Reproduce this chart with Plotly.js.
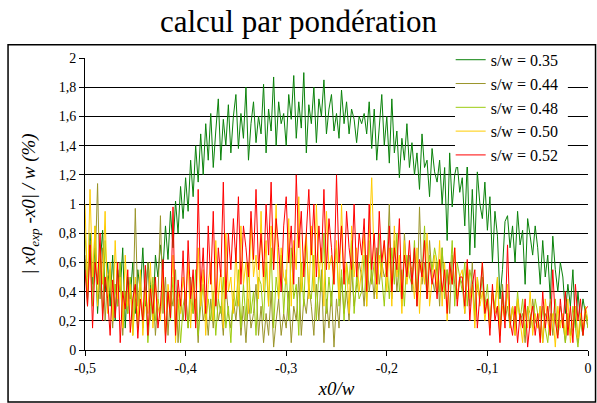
<!DOCTYPE html>
<html><head><meta charset="utf-8">
<script src="https://cdn.plot.ly/plotly-3.0.1.min.js"></script>
<style>html,body{margin:0;padding:0;background:#fff}#c{width:597px;height:403px}</style>
</head><body><div id="c"></div>
<script>
// x grid: from -0.5 to 0 with step 0.0025 (201 points)
const xStart = -0.5;
const xStep = 0.0025;
const seriesNames = ["s/w = 0.35","s/w = 0.44","s/w = 0.48","s/w = 0.50","s/w = 0.52"];
const xTickVals = [-0.5,-0.4,-0.3,-0.2,-0.1,0];
const xTickText = ["-0,5","-0,4","-0,3","-0,2","-0,1","0"];

const sw035 = [
0.62,0.35,0.8,0.45,0.7,0.25,0.58,0.82,0.4,0.6,
0.3,0.65,0.2,0.55,0.4,0.7,0.15,0.5,0.35,0.6,
0.25,0.55,0.4,0.7,0.3,0.6,0.45,0.2,0.65,0.5,
0.72,0.55,0.85,0.62,0.95,0.7,1.02,0.8,1.12,0.9,
1.18,0.95,1.3,1.05,1.4,1.15,1.48,1.2,1.55,1.3,
1.62,1.25,1.5,1.72,1.3,1.58,1.4,1.68,1.35,1.6,
1.75,1.38,1.62,1.45,1.8,1.3,1.55,1.7,1.42,1.6,
1.48,1.82,1.35,1.65,1.5,1.87,1.4,1.7,1.55,1.62,
1.4,1.75,1.58,1.88,1.45,1.7,1.52,1.9,1.35,1.68,
1.55,1.8,1.42,1.72,1.6,1.85,1.48,1.65,1.75,1.5,
1.62,1.45,1.78,1.55,1.7,1.48,1.65,1.58,1.42,1.6,
1.55,1.62,1.48,1.7,1.38,1.65,1.3,1.55,1.75,1.4,
1.6,1.28,1.72,1.35,1.5,1.18,1.45,1.3,1.55,1.25,
1.42,1.2,1.35,1.1,1.48,1.25,1.3,1.05,1.38,1.22,
1.15,1.3,1.0,1.25,0.75,1.35,0.98,1.2,1.28,1.08,
1.18,0.85,1.3,0.65,1.1,0.7,1.22,1.0,0.9,1.15,
0.82,1.05,0.6,0.95,0.78,0.35,0.55,0.88,0.92,0.7,
0.85,0.6,0.95,0.72,0.82,0.45,0.9,0.78,0.65,0.85,
0.7,0.45,0.75,0.5,0.65,0.35,0.78,0.55,0.4,0.6,
0.5,0.25,0.45,0.3,0.55,0.15,0.4,0.2,0.35,0.25,
0.2];

const sw044 = [
0.65,0.3,0.75,0.4,0.55,1.14,0.35,0.7,0.2,0.5,
0.55,0.15,0.45,0.3,0.6,0.1,0.4,0.25,0.5,0.2,
0.97,0.3,0.5,0.15,0.4,0.6,0.2,0.45,0.1,0.35,
0.92,0.25,0.5,0.1,0.4,0.3,0.55,0.05,0.35,0.2,
0.4,0.15,0.5,0.25,0.35,0.05,0.45,0.2,0.3,0.1,
0.35,0.15,0.4,0.2,0.3,0.1,0.45,0.25,0.15,0.35,
0.2,0.4,0.1,0.3,0.05,0.35,0.15,0.25,0.45,0.1,
0.3,0.05,0.25,0.1,0.4,0.02,0.2,0.35,0.1,0.25,
0.15,0.4,0.05,0.3,0.2,0.5,0.1,0.35,0.25,0.45,
0.3,0.1,0.45,0.2,0.55,0.05,0.35,0.15,0.4,0.02,
0.35,0.15,0.5,0.25,0.4,0.2,0.55,0.3,0.45,0.6,
0.5,0.3,0.65,0.4,0.55,0.35,0.7,0.45,0.6,0.5,
0.55,1.0,0.35,0.75,0.4,0.6,0.3,0.8,0.5,0.65,
0.4,0.7,0.3,0.98,0.45,0.6,0.35,0.75,0.5,0.4,
0.6,0.3,0.7,0.4,0.55,0.25,0.65,0.45,0.35,0.5,
0.45,0.25,0.55,0.3,0.6,0.2,0.45,0.35,0.5,0.25,
0.35,0.15,0.4,0.25,0.3,0.1,0.45,0.2,0.3,0.15,
0.3,0.1,0.35,0.2,0.25,0.05,0.3,0.15,0.35,0.2,
0.15,0.3,0.05,0.25,0.2,0.35,0.1,0.25,0.15,0.3,
0.2,0.05,0.25,0.1,0.15,0.3,0.05,0.2,0.1,0.25,
0.15];

const sw048 = [
0.8,0.5,0.7,0.3,0.85,0.45,0.6,0.25,0.75,0.4,
0.55,0.2,0.45,0.3,0.6,0.15,0.4,0.25,0.5,0.1,
0.35,0.15,0.45,0.2,0.4,0.05,0.3,0.5,0.2,0.35,
0.25,0.45,0.1,0.4,0.2,0.5,0.15,0.35,0.05,0.3,
0.4,0.15,0.35,0.25,0.55,0.1,0.3,0.45,0.2,0.35,
0.2,0.4,0.1,0.35,0.25,0.5,0.15,0.3,0.05,0.4,
0.3,0.55,0.15,0.45,0.2,0.6,0.25,0.4,0.1,0.5,
0.45,0.2,0.6,0.3,0.7,0.15,0.5,0.35,0.65,0.25,
0.55,0.2,0.7,0.35,0.45,0.1,0.6,0.3,0.75,0.4,
0.35,0.65,0.2,0.55,0.4,0.8,0.25,0.5,0.3,0.6,
0.7,0.3,0.55,0.2,0.6,0.45,0.75,0.25,0.5,0.35,
0.4,0.65,0.3,0.75,0.45,0.6,0.35,0.8,0.5,0.3,
0.6,0.35,0.7,0.45,0.8,0.4,0.55,0.3,0.65,0.5,
0.45,0.75,0.35,0.6,0.5,0.85,0.4,0.65,0.55,0.7,
0.6,0.4,0.7,0.35,0.55,0.45,0.75,0.3,0.6,0.5,
0.4,0.6,0.3,0.55,0.45,0.25,0.5,0.35,0.6,0.3,
0.45,0.2,0.4,0.3,0.5,0.15,0.35,0.25,0.4,0.2,
0.3,0.15,0.4,0.2,0.35,0.1,0.3,0.25,0.15,0.35,
0.25,0.1,0.3,0.15,0.05,0.25,0.2,0.35,0.1,0.2,
0.2,0.05,0.25,0.1,0.3,0.15,0.02,0.2,0.1,0.25,
0.15];

const sw050 = [
1.0,0.4,1.1,0.5,0.85,0.3,0.7,0.45,0.95,0.25,
0.6,0.2,0.75,0.35,0.5,0.15,0.65,0.3,0.45,0.1,
0.5,0.2,0.55,0.1,0.4,0.25,0.6,0.15,0.45,0.3,
0.2,0.55,0.1,0.45,0.3,0.65,0.05,0.4,0.25,0.5,
0.35,0.6,0.15,0.5,0.25,0.7,0.3,0.55,0.1,0.45,
0.6,0.2,0.75,0.35,0.55,0.15,0.8,0.4,0.5,0.25,
0.7,0.3,0.85,0.45,0.6,0.25,0.9,0.5,0.65,0.35,
0.95,0.4,0.75,0.3,0.85,0.55,1.0,0.35,0.7,0.5,
0.45,0.9,0.3,0.75,0.55,1.05,0.4,0.65,0.8,0.35,
0.85,0.4,1.0,0.5,0.7,0.3,0.95,0.55,0.65,0.45,
0.75,0.35,1.0,0.45,0.6,0.25,0.85,0.5,0.7,0.4,
0.55,0.8,0.3,0.7,1.18,0.6,0.35,0.65,0.5,0.75,
0.4,0.7,0.3,0.85,0.5,0.65,0.25,0.75,0.45,0.6,
0.55,0.35,0.7,0.25,0.6,0.45,0.8,0.3,0.5,0.65,
0.4,0.75,0.3,0.6,0.2,0.55,0.45,0.7,0.35,0.5,
0.55,0.25,0.6,0.35,0.45,0.15,0.5,0.3,0.4,0.2,
0.35,0.15,0.4,0.25,0.5,0.1,0.3,0.2,0.45,0.15,
0.3,0.1,0.35,0.2,0.05,0.3,0.15,0.4,0.1,0.25,
0.15,0.3,0.05,0.35,0.2,0.1,0.25,0.02,0.3,0.15,
0.25,0.1,0.35,0.05,0.2,0.3,0.08,0.25,0.15,0.3,
0.2];

const sw052 = [
0.55,0.3,0.72,0.15,0.6,0.45,0.8,0.2,0.5,0.35,
0.1,0.48,0.22,0.6,0.05,0.4,0.28,0.55,0.12,0.35,
0.45,0.08,0.35,0.2,0.58,0.1,0.42,0.25,0.5,0.15,
0.3,0.62,0.05,0.4,0.22,0.98,0.1,0.48,0.3,0.68,
0.2,0.75,0.35,0.55,0.15,1.1,0.4,0.7,0.25,0.85,
0.45,0.95,0.3,0.7,0.5,1.15,0.35,0.8,0.55,0.9,
0.6,1.05,0.45,0.85,0.7,0.5,0.95,0.62,1.1,0.55,
0.8,0.5,1.0,0.65,1.15,0.55,0.9,0.7,0.4,0.85,
1.05,0.6,0.85,0.45,1.2,0.7,0.95,0.5,0.8,1.1,
0.65,1.0,0.5,0.85,0.6,1.1,0.55,0.9,0.7,0.45,
1.2,0.6,0.85,0.45,0.95,0.7,0.55,1.0,0.5,0.8,
0.65,0.9,0.4,1.0,0.55,0.8,0.45,0.95,0.6,0.75,
0.5,0.85,0.4,0.7,0.55,0.9,0.35,0.65,0.5,0.75,
0.45,0.7,0.3,0.62,0.5,0.75,0.35,0.6,0.45,0.55,
0.35,0.62,0.4,0.55,0.25,0.6,0.45,0.7,0.3,0.5,
0.5,0.3,0.62,0.2,0.45,0.55,0.15,0.4,0.6,0.25,
0.35,0.1,0.45,0.2,0.3,0.05,0.4,0.15,0.72,0.2,
0.1,0.3,0.05,0.25,0.15,0.35,0.02,0.2,0.3,0.1,
0.25,0.05,0.4,0.15,0.3,0.1,0.55,0.2,0.08,0.35,
0.15,0.4,0.1,0.3,0.05,0.45,0.2,0.35,0.1,0.28,
0.3];

const seriesValues = [sw035, sw044, sw048, sw050, sw052];
const seriesColors = ["#0a820a","#9a952a","#9ccc10","#ffcc00","#ff0000"];

const serif = "Liberation Serif";
const traces = seriesValues.map((v,i)=>({
  type:"scatter", mode:"lines", name:seriesNames[i],
  x0:xStart, dx:xStep, y:v,
  line:{color:seriesColors[i], width:1}
}));

const layout = {
  width:597, height:403,
  margin:{l:85, r:9, t:58, b:53},
  paper_bgcolor:"#fff", plot_bgcolor:"#fff",
  separators:", ",
  font:{family:serif, size:14, color:"#000"},
  title:{text:"calcul par pondération", font:{family:serif, size:31, color:"#000"},
         x:0.5, xref:"container", xanchor:"center", y:0.975, yref:"container", yanchor:"top"},
  showlegend:true,
  legend:{x:0.727, xanchor:"left", y:1.052, yanchor:"top", bgcolor:"rgba(0,0,0,0)",
          borderwidth:0, font:{family:serif, size:16, color:"#000"},
          tracegroupgap:0, itemwidth:30},
  xaxis:{range:[-0.5,0], tickvals:xTickVals, ticktext:xTickText,
         ticks:"outside", ticklen:5, tickcolor:"#000", showgrid:false, zeroline:false,
         showline:true, linecolor:"#000", linewidth:1,
         tickfont:{family:serif, size:14},
         title:{text:"x0/w", font:{family:serif, size:19, style:"italic"}, standoff:6}},
  yaxis:{range:[0,2], dtick:0.2, tick0:0, ticks:"outside", ticklen:5, tickcolor:"#000",
         showgrid:true, gridcolor:"#000", gridwidth:1, zeroline:false,
         showline:true, linecolor:"#000", linewidth:1,
         tickfont:{family:serif, size:14},
         title:{text:"| x0<sub>exp</sub> -x0| / w (%)", font:{family:serif, size:19, style:"italic"}, standoff:18}},
  shapes:[
    {type:"rect", xref:"paper", yref:"paper", x0:0.7356, x1:0.960, y0:0.627, y1:1.027,
     line:{width:0}, fillcolor:"#fff", layer:"above"},
    {type:"rect", xref:"paper", yref:"paper", x0:-0.153, x1:1.015, y0:-0.178, y1:1.045,
     line:{color:"#000", width:1.5}, fillcolor:"rgba(0,0,0,0)", layer:"above"}]
};
Plotly.newPlot("c", traces, layout, {displayModeBar:false, staticPlot:true});
</script>
</body></html>
